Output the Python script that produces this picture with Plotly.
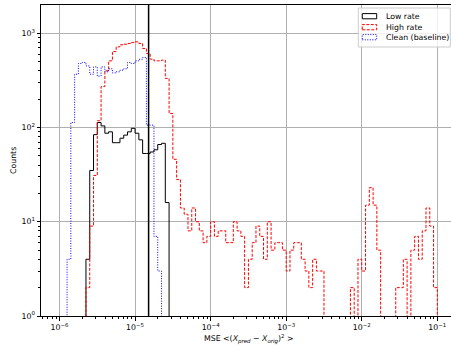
import numpy as np
import plotly.graph_objects as go

# ---- data (histogram counts per log-spaced bin) ----
LOG_EDGE_MIN = -5.9
LOG_EDGE_MAX = -1.0
N_BINS = 98

low_rate = [0, 0, 0, 0, 0, 4, 35, 84, 113, 104, 87, 90, 69, 69, 77, 83, 90, 98, 87, 74,
            53, 53, 55, 58, 66, 68, 16] + [0] * 71

high_rate = [0, 0, 0, 0, 0, 2, 9, 31, 118, 272,
             400, 510, 640, 718, 755, 766, 780, 800, 811, 780,
             690, 611, 531, 510, 510, 519, 332, 141, 46, 28,
             14, 12, 8, 14, 10, 8, 6, 7, 10, 7,
             8, 8, 6, 6, 10, 8, 7, 2, 4, 6,
             9, 7, 4, 10, 5, 6, 6, 5, 3, 5,
             6, 6, 4, 3, 2, 4, 3, 3, 0, 0,
             0, 0, 0, 0, 0, 2, 0, 4, 3, 15,
             23, 15, 5, 0, 0, 0, 0, 2, 2, 4,
             0, 5, 7, 4, 8, 14, 9, 2]

clean = [4, 113, 368, 478, 490, 450, 368, 440, 351, 440,
         390, 420, 380, 390, 406, 420, 490, 478, 510, 530,
         554, 106, 106, 7, 3] + [0] * 73

threshold = 1.51e-5

series_names = ["Low rate", "High rate", "Clean (baseline)"]
x_tick_labels = ["10<sup>−6</sup>", "10<sup>−5</sup>", "10<sup>−4</sup>",
                 "10<sup>−3</sup>", "10<sup>−2</sup>", "10<sup>−1</sup>"]
x_tick_vals = [1e-6, 1e-5, 1e-4, 1e-3, 1e-2, 1e-1]
y_tick_labels = ["10<sup>0</sup>", "10<sup>1</sup>", "10<sup>2</sup>", "10<sup>3</sup>"]
y_tick_vals = [1, 10, 100, 1000]

# ---- helpers ----
edges = np.logspace(LOG_EDGE_MIN, LOG_EDGE_MAX, N_BINS + 1)
FLOOR = 0.1  # below the visible range, so zero bins drop to the bottom


def step_path(counts):
    c = [v if v > 0 else FLOOR for v in counts]
    xs = [edges[0]] + list(edges[:-1]) + [edges[-1], edges[-1]]
    ys = [FLOOR] + c + [c[-1], FLOOR]
    return xs, ys


FONT = "DejaVu Sans"
FS = 7.8

fig = go.Figure()
styles = [
    dict(color="black", width=1, dash="solid"),
    dict(color="#ff0000", width=1, dash="3px,1.5px"),
    dict(color="#0000ff", width=1, dash="1px,1.5px"),
]
for name, counts, st in zip(series_names, [low_rate, high_rate, clean], styles):
    xs, ys = step_path(counts)
    fig.add_trace(go.Scatter(x=xs, y=ys, mode="lines", name=name,
                             line=dict(shape="hv", **st), showlegend=False))

fig.add_trace(go.Scatter(x=[threshold, threshold], y=[FLOOR, 1e5], mode="lines",
                         line=dict(color="black", width=1.5), showlegend=False))

minor_x = [m * 10.0 ** k for k in range(-7, 0) for m in range(2, 10)]
minor_y = [m * 10.0 ** k for k in range(0, 4) for m in range(2, 10)]

fig.update_xaxes(type="log", range=[-6.245, -0.819],
                 tickvals=x_tick_vals, ticktext=x_tick_labels,
                 ticks="outside", ticklen=3.5, tickwidth=0.8, tickcolor="black",
                 showgrid=True, gridcolor="#b0b0b0", gridwidth=0.8,
                 showline=True, linecolor="black", linewidth=1, mirror=True,
                 zeroline=False,
                 minor=dict(tickvals=minor_x, ticks="outside", ticklen=2,
                            tickwidth=0.6, tickcolor="black", showgrid=False),
                 tickfont=dict(family=FONT, size=FS, color="black"))
fig.update_yaxes(type="log", range=[0, 3.30],
                 tickvals=y_tick_vals, ticktext=y_tick_labels,
                 ticks="outside", ticklen=3.5, tickwidth=0.8, tickcolor="black",
                 showgrid=True, gridcolor="#b0b0b0", gridwidth=0.8,
                 showline=True, linecolor="black", linewidth=1, mirror=False,
                 zeroline=False,
                 minor=dict(tickvals=minor_y, ticks="outside", ticklen=2,
                            tickwidth=0.6, tickcolor="black", showgrid=False),
                 tickfont=dict(family=FONT, size=FS, color="black"))

# plot area geometry (px) for converting legend positions
L, R, T, B = 41, 451, 5, 316
W, H = R - L, B - T


def px(x):
    return (x - L) / W


def py(y):
    return (B - y) / H


shapes = []
annotations = []
# legend frame
shapes.append(dict(type="rect", xref="paper", yref="paper",
                   x0=px(358.3), x1=px(450.3), y0=py(47), y1=py(8),
                   line=dict(color="#cccccc", width=1),
                   fillcolor="rgba(255,255,255,0.8)", layer="above"))
centers = [16.2, 27.2, 37.2]
for name, st, cy in zip(series_names, styles, centers):
    shapes.append(dict(type="rect", xref="paper", yref="paper",
                       x0=px(362.3), x1=px(376.7), y0=py(cy + 2.6), y1=py(cy - 2.6),
                       line=dict(color=st["color"], width=1, dash=st["dash"]),
                       fillcolor="rgba(0,0,0,0)", layer="above"))
    annotations.append(dict(text=name, xref="paper", yref="paper",
                            x=px(384.0), y=py(cy), xanchor="left", yanchor="middle",
                            showarrow=False,
                            font=dict(family=FONT, size=FS, color="black")))

# axis titles
annotations.append(dict(text="MSE &lt;(<i>X<sub>pred</sub></i> − <i>X<sub>orig</sub></i>)<sup>2</sup> &gt;",
                        xref="paper", yref="paper", x=px(248), y=py(339),
                        xanchor="center", yanchor="middle", showarrow=False,
                        font=dict(family=FONT, size=FS, color="black")))
annotations.append(dict(text="Counts", xref="paper", yref="paper",
                        x=px(13), y=py(160), textangle=-90,
                        xanchor="center", yanchor="middle", showarrow=False,
                        font=dict(family=FONT, size=FS, color="black")))

fig.update_layout(width=451, height=349,
                  margin=dict(l=L, r=451 - R, t=T, b=349 - B),
                  paper_bgcolor="white", plot_bgcolor="white",
                  showlegend=False, shapes=shapes, annotations=annotations,
                  font=dict(family=FONT, size=FS, color="black"))

fig.write_html("out.html", config={"displayModeBar": False},
               post_script="document.body.style.margin='0';document.body.style.overflow='hidden';")
